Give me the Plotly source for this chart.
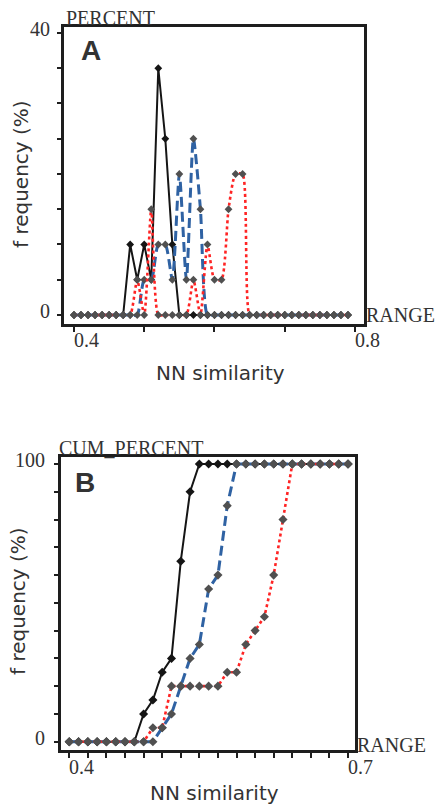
import plotly.graph_objects as go

W, H = 439, 808

# ---------------- data ----------------
# Panel A: frequency (%) per NN-similarity bin
xa = [round(0.40 + 0.01 * i, 2) for i in range(40)]  # bins 0.40 .. 0.79
freq_black = [0, 0, 0, 0, 0, 0, 0, 0, 10, 5, 10, 5, 35, 25, 10, 0, 0, 0, 0, 0,
              0, 0, 0, 0, 0, 0, 0, 0, 0, 0, 0, 0, 0, 0, 0, 0, 0, 0, 0, 0]
freq_blue = [0, 0, 0, 0, 0, 0, 0, 0, 0, 0, 5, 5, 10, 10, 5, 20, 5, 25, 15, 0,
             0, 0, 0, 0, 0, 0, 0, 0, 0, 0, 0, 0, 0, 0, 0, 0, 0, 0, 0, 0]
freq_red = [0, 0, 0, 0, 0, 0, 0, 0, 0, 5, 0, 15, 0, 0, 0, 0, 0, 5, 0, 10,
            5, 5, 15, 20, 20, 0, 0, 0, 0, 0, 0, 0, 0, 0, 0, 0, 0, 0, 0, 0]

# Panel B: cumulative frequency (%)
xb = [round(0.40 + 0.01 * i, 2) for i in range(31)]  # bins 0.40 .. 0.70
cum_black = [0, 0, 0, 0, 0, 0, 0, 0, 10, 15, 25, 30, 65, 90, 100, 100,
             100, 100, 100, 100, 100, 100, 100, 100, 100, 100, 100, 100, 100, 100, 100]
cum_blue = [0, 0, 0, 0, 0, 0, 0, 0, 0, 0, 5, 10, 20, 30, 35, 55,
            60, 85, 100, 100, 100, 100, 100, 100, 100, 100, 100, 100, 100, 100, 100]
cum_red = [0, 0, 0, 0, 0, 0, 0, 0, 0, 5, 5, 20, 20, 20, 20, 20,
           20, 25, 25, 35, 40, 45, 60, 80, 100, 100, 100, 100, 100, 100, 100]

ya_ticks = [0, 5, 10, 15, 20, 25, 30, 35, 40]
ya_labels = {0: "0", 40: "40"}
xa_ticks = [0.4, 0.5, 0.6, 0.7, 0.8]
xa_labels = {0.4: "0.4", 0.8: "0.8"}
yb_ticks = [0, 10, 20, 30, 40, 50, 60, 70, 80, 90, 100]
yb_labels = {0: "0", 100: "100"}
xb_ticks = [round(0.40 + 0.02 * i, 2) for i in range(16)]
xb_labels = {0.4: "0.4", 0.7: "0.7"}

# ---------------- styles ----------------
C_BLACK = "#151515"
C_BLUE = "#2f62a3"
C_RED = "#ff2424"
C_MARK = "#505050"
SERIF = "Liberation Serif, Times New Roman, serif"
SANS = "DejaVu Sans, Arial, sans-serif"
TXT = "#333333"


def px_x(p):
    return p / W


def px_y(p):
    return 1 - p / H


fig = go.Figure()

series = [
    (freq_black, cum_black, C_BLACK, dict(width=2, dash="solid"), C_BLACK, "linear"),
    (freq_blue, cum_blue, C_BLUE, dict(width=3, dash="10px,5px"), C_MARK, "spline"),
    (freq_red, cum_red, C_RED, dict(width=2.6, dash="dot"), C_MARK, "spline"),
]

for fa, cb, col, ln, mcol, shape in series:
    fig.add_trace(go.Scatter(
        x=xa, y=fa, xaxis="x", yaxis="y", mode="lines+markers",
        line=dict(color=col, width=ln["width"], dash=ln["dash"], shape=shape, smoothing=0.6),
        marker=dict(symbol="diamond", size=6, color=mcol),
        showlegend=False, hoverinfo="skip"))
    fig.add_trace(go.Scatter(
        x=xb, y=cb, xaxis="x2", yaxis="y2", mode="lines+markers",
        line=dict(color=col, width=ln["width"], dash=ln["dash"]),
        marker=dict(symbol="diamond", size=7, color=mcol),
        showlegend=False, hoverinfo="skip"))

axis_common = dict(showgrid=False, zeroline=False, showline=True, mirror=True,
                   linecolor="#1e1e1e", linewidth=2.5, ticks="outside",
                   tickcolor="#1e1e1e", tickwidth=2, showticklabels=False)

fig.update_layout(
    width=W, height=H,
    margin=dict(l=0, r=0, t=0, b=0),
    paper_bgcolor="white", plot_bgcolor="white",
    xaxis=dict(domain=[px_x(64), px_x(364)], range=[0.3858, 0.8128],
               tickvals=xa_ticks, ticklen=5, anchor="y", **axis_common),
    yaxis=dict(domain=[px_y(324), px_y(27)], range=[-1.28, 40.85],
               tickvals=ya_ticks, ticklen=4, anchor="x", **axis_common),
    xaxis2=dict(domain=[px_x(61), px_x(355)], range=[0.3911, 0.7075],
                tickvals=xb_ticks, ticklen=5, anchor="y2", **axis_common),
    yaxis2=dict(domain=[px_y(750), px_y(457)], range=[-2.99, 102.52],
                tickvals=yb_ticks, ticklen=4, anchor="x2", **axis_common),
)

ann = []


def text(x, y, s, size, font=SERIF, xanchor="left", yanchor="middle",
         xref="paper", yref="paper", angle=0, color=TXT, bold=False):
    if bold:
        s = "<b>" + s + "</b>"
    ann.append(dict(x=x, y=y, xref=xref, yref=yref, text=s, showarrow=False,
                    xanchor=xanchor, yanchor=yanchor, textangle=angle,
                    font=dict(family=font, size=size, color=color)))


# panel A texts
text(px_x(64), px_y(18), "PERCENT", 20)
text(px_x(364), px_y(315), "RANGE", 20)
text(px_x(79), px_y(51), "A", 28, font="Liberation Sans, Arial, sans-serif", bold=True)
for v, s in ya_labels.items():
    ann.append(dict(x=px_x(52), y=v, xref="paper", yref="y", text=s, showarrow=False,
                    xanchor="right", yanchor="middle", yshift=4,
                    font=dict(family=SERIF, size=20, color=TXT)))
for v, s in xa_labels.items():
    ann.append(dict(x=v, y=px_y(340), xref="x", yref="paper", text=s, showarrow=False,
                    xanchor="left", yanchor="middle", xshift=-2,
                    font=dict(family=SERIF, size=20, color=TXT)))
text(px_x(21), px_y(174), "f requency (%)", 20, font=SANS, xanchor="center", angle=-90)
text(px_x(220), px_y(373), "NN similarity", 20, font=SANS, xanchor="center")

# panel B texts
text(px_x(57), px_y(448), "CUM_PERCENT", 20)
text(px_x(355), px_y(745), "RANGE", 20)
text(px_x(73), px_y(482), "B", 28, font="Liberation Sans, Arial, sans-serif", bold=True)
for v, s in yb_labels.items():
    ann.append(dict(x=px_x(47), y=v, xref="paper", yref="y2", text=s, showarrow=False,
                    xanchor="right", yanchor="middle", yshift=4,
                    font=dict(family=SERIF, size=20, color=TXT)))
for v, s in xb_labels.items():
    ann.append(dict(x=v, y=px_y(767), xref="x2", yref="paper", text=s, showarrow=False,
                    xanchor="left", yanchor="middle", xshift=-2,
                    font=dict(family=SERIF, size=20, color=TXT)))
text(px_x(18), px_y(601), "f requency (%)", 20, font=SANS, xanchor="center", angle=-90)
text(px_x(214), px_y(807), "NN similarity", 20, font=SANS, xanchor="center", yanchor="bottom")

fig.update_layout(annotations=ann)
fig.write_html("out.html")
